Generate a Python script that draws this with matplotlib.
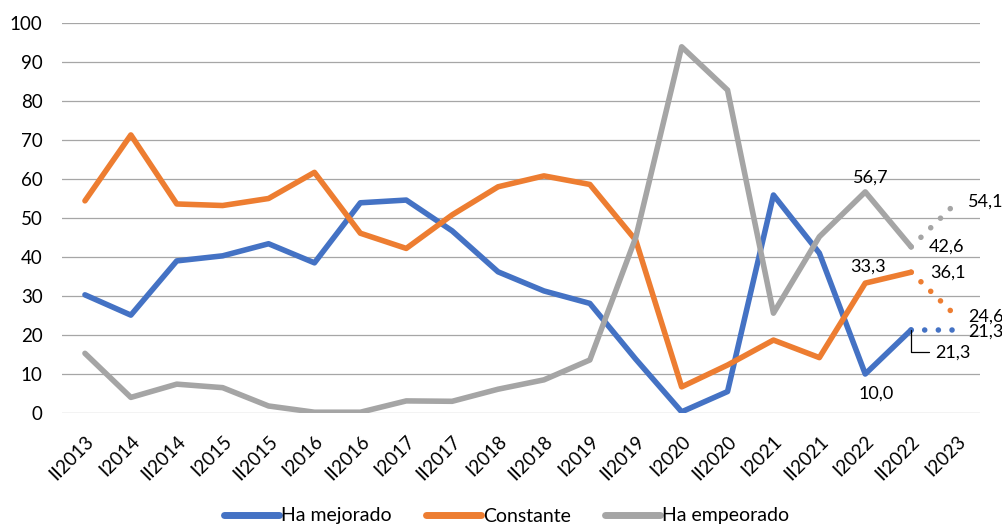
import matplotlib.pyplot as plt

plt.rcParams['font.family'] = ['Lato', 'DejaVu Sans']

periodos = ['II2013', 'I2014', 'II2014', 'I2015', 'II2015', 'I2016', 'II2016',
            'I2017', 'II2017', 'I2018', 'II2018', 'I2019', 'II2019', 'I2020',
            'II2020', 'I2021', 'II2021', 'I2022', 'II2022', 'I2023']

# observed values, II2013 .. II2022
mejorado = [30.3, 25.1, 39.0, 40.3, 43.4, 38.5, 53.9, 54.6, 46.7, 36.2,
            31.3, 28.1, 13.8, 0.3, 5.5, 55.9, 41.0, 10.0, 21.3]
constante = [54.4, 71.3, 53.6, 53.2, 55.0, 61.7, 46.1, 42.2, 50.8, 58.0,
             60.8, 58.6, 44.3, 6.7, 12.3, 18.7, 14.2, 33.3, 36.1]
empeorado = [15.3, 4.0, 7.4, 6.5, 1.8, 0.2, 0.2, 3.1, 3.0, 6.1,
             8.5, 13.6, 45.0, 93.9, 82.8, 25.6, 45.2, 56.7, 42.6]

# expected values, II2022 -> I2023
proy_mejorado = [21.3, 21.3]
proy_constante = [36.1, 24.6]
proy_empeorado = [42.6, 54.1]

azul = '#4472C4'
naranja = '#ED7D31'
gris = '#A5A5A5'

fig = plt.figure(figsize=(10.03, 5.28), dpi=100)
ax = fig.add_axes([62 / 1003, 115 / 528, 918 / 1003, 390 / 528])

x_obs = list(range(len(mejorado)))
x_proy = [len(mejorado) - 1, len(mejorado)]

lw = 4.0
series = [('Ha mejorado', mejorado, proy_mejorado, azul),
          ('Constante', constante, proy_constante, naranja),
          ('Ha empeorado', empeorado, proy_empeorado, gris)]
for nombre, obs, proy, color in series:
    ax.plot(x_obs, obs, color=color, lw=lw, label=nombre,
            solid_capstyle='round', solid_joinstyle='round', zorder=3)
    ax.plot(x_proy, proy, color=color, lw=lw, linestyle=(0, (0.01, 2.45)),
            dash_capstyle='round', zorder=3)

ax.set_xlim(-0.5, len(periodos) - 0.5)
ax.set_ylim(0, 100)
ax.set_yticks(range(0, 101, 10))
ax.set_xticks(range(len(periodos)))
ax.set_xticklabels(periodos, rotation=45, ha='right', rotation_mode='anchor')
ax.tick_params(axis='both', length=0, labelsize=13.5, colors='black')
ax.tick_params(axis='y', pad=14)
ax.tick_params(axis='x', pad=14)
ax.grid(axis='y', color='#a6a6a6', lw=0.9, zorder=0)
for s in ax.spines.values():
    s.set_visible(False)

# data labels on the last periods
fs = 13
def etiqueta(texto, x, y, dx, dy, ha='center'):
    ax.annotate(texto, (x, y), xytext=(dx, dy), textcoords='offset points',
                ha=ha, va='center', fontsize=fs, zorder=4)

etiqueta('56,7', 17, empeorado[17], 4, 10)
etiqueta('42,6', 18, empeorado[18], 13, 0, ha='left')
etiqueta('54,1', 19, proy_empeorado[1], 8, 0, ha='left')
etiqueta('33,3', 17, constante[17], 2, 12)
etiqueta('36,1', 18, constante[18], 14, 0, ha='left')
etiqueta('24,6', 19, proy_constante[1], 8, 0, ha='left')
etiqueta('21,3', 19, proy_mejorado[1], 8, -1, ha='left')
etiqueta('10,0', 17, mejorado[17], 8, -14)
ax.annotate('21,3', (18, mejorado[18]), xytext=(17, -16),
            textcoords='offset points', ha='left', va='center', fontsize=fs,
            arrowprops=dict(arrowstyle='-', color='black', lw=0.9,
                            shrinkA=2, shrinkB=0,
                            connectionstyle='angle,angleA=0,angleB=90,rad=0'))

leg = fig.legend(loc='center', bbox_to_anchor=(0.505, 12 / 528), ncol=3,
                 frameon=False, fontsize=14, handlelength=2.85,
                 handletextpad=0.1, columnspacing=1.75)
for linea in leg.get_lines():
    linea.set_linewidth(5)

fig.savefig('out.png', dpi=100)
